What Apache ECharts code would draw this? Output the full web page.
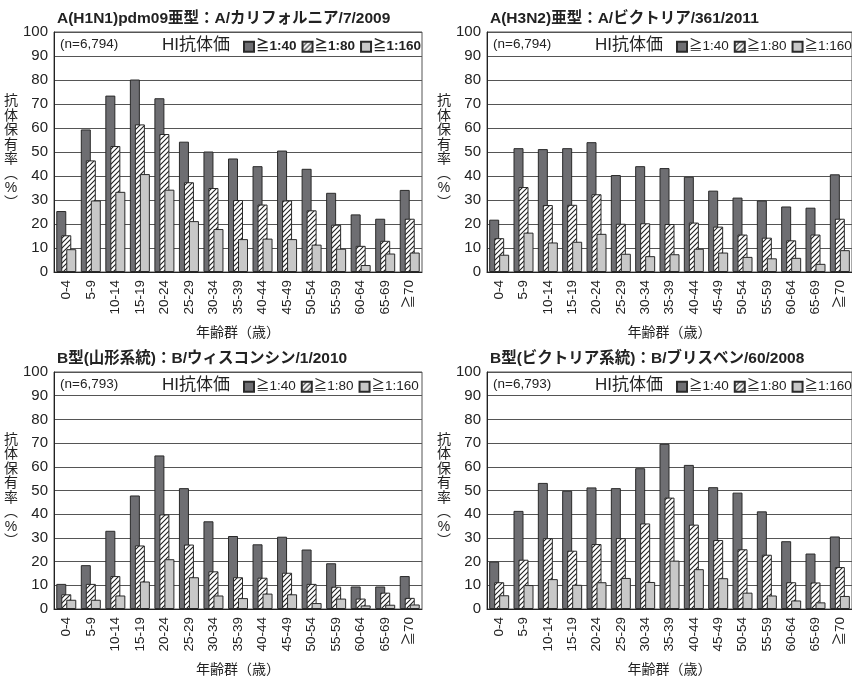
<!DOCTYPE html>
<html>
<head>
<meta charset="utf-8">
<script src="https://cdn.jsdelivr.net/npm/echarts@6/dist/echarts.min.js"></script>
<style>
  html, body { margin: 0; padding: 0; background: #fff; }
  #main { width: 852px; height: 678px; }
</style>
</head>
<body>
<div id="main"></div>
<script>
// 年齢群
var ageGroups = ['0-4', '5-9', '10-14', '15-19', '20-24', '25-29', '30-34', '35-39', '40-44', '45-49', '50-54', '55-59', '60-64', '65-69', '≧70'];
var titerNames = ['≧1:40', '≧1:80', '≧1:160'];
var yTicks = { min: 0, max: 100, interval: 10 };

// A(H1N1)pdm09
var h1n1_40 = [25.4, 59.4, 73.5, 80.2, 72.4, 54.3, 50.2, 47.3, 44.1, 50.6, 43.0, 33.0, 24.0, 22.2, 34.2];
var h1n1_80 = [15.3, 46.5, 52.5, 61.5, 57.5, 37.4, 35.0, 30.0, 28.1, 29.8, 25.7, 19.7, 10.9, 13.0, 22.2];
var h1n1_160 = [9.5, 29.8, 33.4, 40.8, 34.3, 21.2, 17.9, 13.7, 13.9, 13.7, 11.4, 9.7, 2.9, 7.7, 8.1];

// A(H3N2)
var h3n2_40 = [21.8, 51.6, 51.2, 51.6, 54.1, 40.4, 44.1, 43.3, 39.7, 33.9, 31.0, 29.8, 27.3, 26.8, 40.7];
var h3n2_80 = [14.1, 35.4, 27.9, 28.0, 32.4, 20.1, 20.3, 20.0, 20.6, 18.9, 15.6, 14.3, 13.2, 15.6, 22.2];
var h3n2_160 = [7.2, 16.4, 12.3, 12.6, 15.9, 7.6, 6.6, 7.4, 9.7, 8.1, 6.3, 5.7, 5.9, 3.4, 9.1];

// B(山形系統)
var bYam_40 = [10.6, 18.5, 33.0, 47.9, 64.8, 51.0, 37.0, 30.8, 27.3, 30.5, 25.1, 19.3, 9.5, 9.5, 13.9];
var bYam_80 = [6.2, 10.6, 13.9, 26.8, 39.9, 27.2, 15.9, 13.4, 13.2, 15.3, 10.6, 9.4, 4.4, 6.9, 4.7];
var bYam_160 = [3.9, 3.9, 5.7, 11.6, 21.0, 13.4, 5.7, 4.6, 6.5, 6.2, 2.5, 4.4, 1.5, 1.8, 1.9];

// B(ビクトリア系統)
var bVic_40 = [20.0, 41.4, 53.2, 49.9, 51.3, 51.0, 59.4, 69.7, 60.8, 51.4, 49.1, 41.2, 28.6, 23.4, 30.6];
var bVic_80 = [11.3, 20.8, 29.9, 24.6, 27.4, 29.9, 36.1, 47.0, 35.6, 29.1, 25.2, 22.9, 11.3, 11.2, 17.7];
var bVic_160 = [5.8, 10.1, 12.6, 10.2, 11.3, 13.1, 11.4, 20.4, 16.8, 13.0, 6.9, 5.7, 3.6, 2.8, 5.5];

var panels = [
    { title: 'A(H1N1)pdm09亜型：A/カリフォルニア/7/2009', n: '(n=6,794)', data: [h1n1_40, h1n1_80, h1n1_160], left: 54, top: 32, bold: true },
    { title: 'A(H3N2)亜型：A/ビクトリア/361/2011', n: '(n=6,794)', data: [h3n2_40, h3n2_80, h3n2_160], left: 487, top: 32, bold: false },
    { title: 'B型(山形系統)：B/ウィスコンシン/1/2010', n: '(n=6,793)', data: [bYam_40, bYam_80, bYam_160], left: 54, top: 372, bold: false },
    { title: 'B型(ビクトリア系統)：B/ブリスベン/60/2008', n: '(n=6,793)', data: [bVic_40, bVic_80, bVic_160], left: 487, top: 372, bold: false }
];

var FONT = '"Liberation Sans", "Noto Sans CJK JP", sans-serif';

// 斜線パターン
function makeHatch() {
    var s = 5;
    var c = document.createElement('canvas');
    c.width = s;
    c.height = s;
    var ctx = c.getContext('2d');
    ctx.fillStyle = '#fff';
    ctx.fillRect(0, 0, s, s);
    ctx.strokeStyle = '#222';
    ctx.lineWidth = 1.1;
    ctx.beginPath();
    ctx.moveTo(0, s); ctx.lineTo(s, 0);
    ctx.moveTo(-1, 1); ctx.lineTo(1, -1);
    ctx.moveTo(s - 1, s + 1); ctx.lineTo(s + 1, s - 1);
    ctx.stroke();
    return c;
}

var fills = ['#6e6e72', { image: makeHatch(), repeat: 'repeat' }, '#c8c8c8'];

var option = {
    backgroundColor: '#fff',
    animation: false,
    title: [],
    legend: [],
    grid: [],
    xAxis: [],
    yAxis: [],
    series: [],
    graphic: [
        // 右下の枠 (見切れ)
        { type: 'rect', left: 731, top: 676, shape: { width: 112, height: 20 }, style: { fill: 'none', stroke: '#555', lineWidth: 1 } }
    ]
};

panels.forEach(function (p, i) {
    option.grid.push({
        left: p.left, top: p.top, width: 368, height: 240,
        show: true, borderColor: '#555', borderWidth: 1
    });
    // 見出し
    option.title.push({
        text: p.title, left: p.left + 3, top: p.top - 21, padding: 0,
        textStyle: { fontFamily: FONT, fontSize: 15.5, fontWeight: 'bold', color: '#222' }
    });
    option.title.push({
        text: p.n, left: p.left + 6, top: p.top + 6, padding: 0,
        textStyle: { fontFamily: FONT, fontSize: 13.5, fontWeight: 'normal', color: '#222' }
    });
    option.title.push({
        text: 'HI抗体価', left: p.left + 108, top: p.top + 5, padding: 0,
        textStyle: { fontFamily: FONT, fontSize: 17, fontWeight: 'normal', color: '#222' }
    });
    option.legend.push({
        data: titerNames,
        left: p.left + 189, top: p.top + 8, padding: 0,
        icon: 'rect', itemWidth: 10, itemHeight: 10, itemGap: 5,
        selectedMode: false,
        textStyle: { fontFamily: FONT, fontSize: 13.5, color: '#222', fontWeight: p.bold ? 'bold' : 'normal', padding: [0, 0, 0, -3] }
    });
    option.xAxis.push({
        type: 'category', gridIndex: i, data: ageGroups,
        name: '年齢群（歳）', nameLocation: 'middle', nameGap: 54,
        nameTextStyle: { fontFamily: FONT, fontSize: 14, color: '#222' },
        axisLine: { lineStyle: { color: '#222', width: 1 } },
        axisTick: { show: false },
        axisLabel: { rotate: 90, margin: 8, fontFamily: FONT, fontSize: 13.5, color: '#222', interval: 0 }
    });
    option.yAxis.push({
        type: 'value', gridIndex: i,
        min: yTicks.min, max: yTicks.max, interval: yTicks.interval,
        name: '抗\n体\n保\n有\n率\n︵\n%\n︶', nameLocation: 'middle', nameRotate: 0, nameGap: 39,
        nameTextStyle: { fontFamily: FONT, fontSize: 14, color: '#222', align: 'center', verticalAlign: 'middle', lineHeight: 14.5 },
        axisLine: { show: true, lineStyle: { color: '#222', width: 1 } },
        axisTick: { show: false },
        axisLabel: { margin: 6, fontFamily: FONT, fontSize: 15, color: '#222' },
        splitLine: { lineStyle: { color: '#555', width: 1 } }
    });
    for (var k = 0; k < 3; k++) {
        option.series.push({
            type: 'bar', name: titerNames[k],
            xAxisIndex: i, yAxisIndex: i,
            data: p.data[k],
            barWidth: 10, barGap: '-50%',
            itemStyle: { color: fills[k], borderColor: '#2a2a2a', borderWidth: 1 }
        });
    }
});

var chart = echarts.init(document.getElementById('main'));
chart.setOption(option);
</script>
</body>
</html>
